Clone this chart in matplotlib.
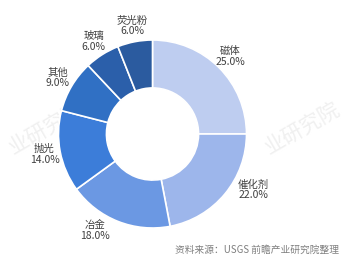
import numpy as np
import matplotlib.pyplot as plt

plt.rcParams['font.family'] = ['Noto Sans CJK SC', 'DejaVu Sans']

names = ['磁体', '催化剂', '冶金', '抛光', '其他', '玻璃', '荧光粉']
shares = [25.0, 22.0, 18.0, 14.0, 9.0, 6.0, 6.0]
colors = ['#BECDF0', '#9DB6EB', '#6B98E3', '#3C7DD9', '#3070C4', '#2B5FAA', '#2B5B9F']
source = '资料来源：USGS 前瞻产业研究院整理'

fig = plt.figure(figsize=(3.52, 2.64), dpi=100)
ax = fig.add_axes([0, 0, 1, 1])

# faint watermark behind the donut
for wx, wy in [(-1.12, 0.05), (1.6, 0.05)]:
    ax.text(wx, wy, '业研究院', fontsize=15, color='#F0F0F0', rotation=30,
            ha='center', va='center', zorder=0)

labels = ['%s\n%.1f%%' % (n, v) for n, v in zip(names, shares)]
wedges, texts = ax.pie(shares, colors=colors, startangle=90, counterclock=False,
                       radius=1.0, labels=labels, labeldistance=1.17,
                       wedgeprops=dict(width=0.51, edgecolor='white', linewidth=1.2),
                       textprops=dict(fontsize=7.5, color='#404040', linespacing=1.1))
for t in texts:
    t.set_ha('center')
    t.set_va('center')
    t.set_multialignment('center')

# Excel nudged a couple of labels away from the slice midline
x, y = texts[1].get_position()
texts[1].set_position((x + 0.17, y + 0.15))
x, y = texts[2].get_position()
texts[2].set_position((x - 0.18, y + 0.06))

# center at (152.5, 134) px, radius 94 px
ax.set_xlim(-152.5 / 94, (352 - 152.5) / 94)
ax.set_ylim(-(264 - 134) / 94, 134 / 94)
ax.set_aspect('auto')
ax.axis('off')

fig.text(0.962, 0.052, source, fontsize=7, color='#7F7F7F', ha='right', va='center')

plt.savefig('out.png', dpi=100)
